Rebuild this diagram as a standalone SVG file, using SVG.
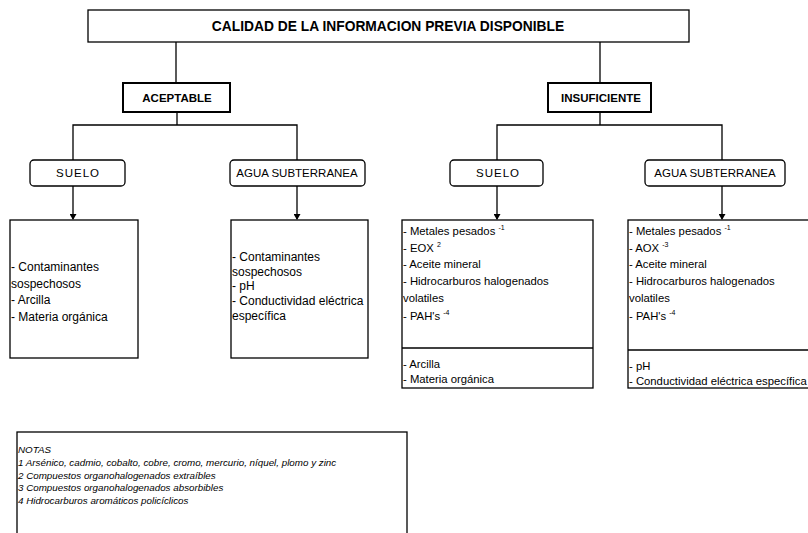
<svg xmlns="http://www.w3.org/2000/svg" width="808" height="533" viewBox="0 0 808 533">
<defs>
<marker id="ah" markerWidth="6" markerHeight="7" refX="5" refY="3.5" orient="auto" markerUnits="userSpaceOnUse">
<path d="M0,0 L6,3.5 L0,7 Z" fill="#000"/>
</marker>
<style>
.b{fill:#fff;stroke:#000;stroke-width:1.3}
.bb{fill:#fff;stroke:#000;stroke-width:2}
.c{fill:none;stroke:#000;stroke-width:1.3}
text{font-family:"Liberation Sans",Arial,sans-serif;fill:#000}
.t{font-size:13.8px;font-weight:bold;text-anchor:middle}
.h{font-size:11.5px;font-weight:bold;text-anchor:middle}
.s{font-size:11.5px;text-anchor:middle}
.sp{letter-spacing:1px}
.l{font-size:12px}
.r{font-size:11.3px}
.n{font-size:9.8px;font-style:italic}
.sup{font-size:7px}
</style>
</defs>
<rect width="808" height="533" fill="#fff"/>
<g id="connectors">
<path class="c" d="M176,42 V83"/>
<path class="c" d="M600,42 V83"/>
<path class="c" d="M177,112 V125 M73,160 V125 H297 V160"/>
<path class="c" d="M600,112 V125 M497,160 V125 H722 V160"/>
<path class="c" d="M73,186 V219" marker-end="url(#ah)"/>
<path class="c" d="M297,186 V219" marker-end="url(#ah)"/>
<path class="c" d="M497,186 V219" marker-end="url(#ah)"/>
<path class="c" d="M722,186 V219" marker-end="url(#ah)"/>
</g>
<g id="top">
<rect class="b" x="88" y="10" width="601" height="32"/>
<text class="t" x="388" y="31">CALIDAD DE LA INFORMACION PREVIA DISPONIBLE</text>
</g>
<g id="aceptable">
<rect class="bb" x="123" y="83" width="107" height="29"/>
<text class="h" x="177" y="102">ACEPTABLE</text>
</g>
<g id="insuficiente">
<rect class="bb" x="548" y="83" width="103" height="29"/>
<text class="h" x="601" y="102">INSUFICIENTE</text>
</g>
<g id="suelo-a">
<rect class="b" x="30" y="160" width="95" height="26" rx="4"/>
<text class="s sp" x="78" y="177">SUELO</text>
</g>
<g id="agua-a">
<rect class="b" x="230" y="160" width="135" height="26" rx="4"/>
<text class="s" x="297" y="177">AGUA SUBTERRANEA</text>
</g>
<g id="suelo-i">
<rect class="b" x="450" y="160" width="93" height="26" rx="4"/>
<text class="s sp" x="498" y="177">SUELO</text>
</g>
<g id="agua-i">
<rect class="b" x="645" y="160" width="140" height="26" rx="4"/>
<text class="s" x="715" y="177">AGUA SUBTERRANEA</text>
</g>
<g id="contenido-suelo-a">
<rect class="b" x="10" y="220" width="128" height="138"/>
<text class="l" x="11" y="271">- Contaminantes</text>
<text class="l" x="11" y="288">sospechosos</text>
<text class="l" x="11" y="304">- Arcilla</text>
<text class="l" x="11" y="321">- Materia orgánica</text>
</g>
<g id="contenido-agua-a">
<rect class="b" x="231" y="220" width="137" height="138"/>
<text class="l" x="232" y="261">- Contaminantes</text>
<text class="l" x="232" y="276">sospechosos</text>
<text class="l" x="232" y="290">- pH</text>
<text class="l" x="232" y="305">- Conductividad eléctrica</text>
<text class="l" x="232" y="320">específica</text>
</g>
<g id="contenido-suelo-i">
<rect class="b" x="402" y="220" width="191" height="168"/>
<path class="c" d="M402,348 H593"/>
<text class="r" x="403" y="235">- Metales pesados <tspan class="sup" dy="-5">-1</tspan></text>
<text class="r" x="403" y="252">- EOX <tspan class="sup" dy="-5">2</tspan></text>
<text class="r" x="403" y="268">- Aceite mineral</text>
<text class="r" x="403" y="285">- Hidrocarburos halogenados</text>
<text class="r" x="403" y="302">volatiles</text>
<text class="r" x="403" y="320">- PAH's <tspan class="sup" dy="-5">-4</tspan></text>
<text class="r" x="403" y="368">- Arcilla</text>
<text class="r" x="403" y="383">- Materia orgánica</text>
</g>
<g id="contenido-agua-i">
<rect class="b" x="628" y="220" width="190" height="168"/>
<path class="c" d="M628,350 H808"/>
<text class="r" x="629" y="235">- Metales pesados <tspan class="sup" dy="-5">-1</tspan></text>
<text class="r" x="629" y="252">- AOX <tspan class="sup" dy="-5">-3</tspan></text>
<text class="r" x="629" y="268">- Aceite mineral</text>
<text class="r" x="629" y="285">- Hidrocarburos halogenados</text>
<text class="r" x="629" y="302">volatiles</text>
<text class="r" x="629" y="320">- PAH's <tspan class="sup" dy="-5">-4</tspan></text>
<text class="r" x="629" y="370">- pH</text>
<text class="r" x="629" y="385">- Conductividad eléctrica específica</text>
</g>
<g id="notas">
<rect class="b" x="17" y="432" width="390" height="110"/>
<text class="n" x="18" y="453">NOTAS</text>
<text class="n" x="18" y="466">1 Arsénico, cadmio, cobalto, cobre, cromo, mercurio, níquel, plomo y zinc</text>
<text class="n" x="18" y="479">2 Compuestos organohalogenados extraíbles</text>
<text class="n" x="18" y="491">3 Compuestos organohalogenados absorbibles</text>
<text class="n" x="18" y="504">4 Hidrocarburos aromáticos policíclicos</text>
</g>
</svg>
